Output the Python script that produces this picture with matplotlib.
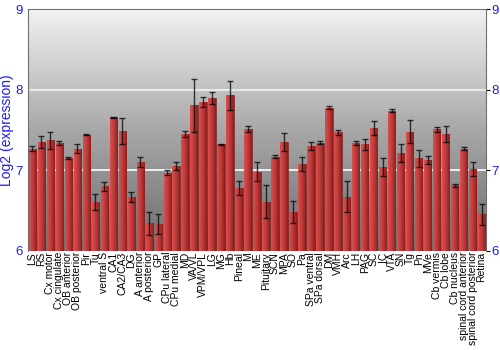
import numpy as np
import matplotlib
matplotlib.use('Agg')
import matplotlib.pyplot as plt
from matplotlib.colors import LinearSegmentedColormap

regions = ['LS', 'RS', 'Cx motor', 'Cx cingulate', 'OB anterior', 'OB posterior', 'Pir', 'Tu',
           'ventral S', 'CA1', 'CA2/CA3', 'DG', 'A anterior', 'A posterior', 'GP', 'CPu lateral',
           'CPu medial', 'MD', 'VA/VL', 'VPM/VPL', 'LG', 'MG', 'Hb', 'Pineal', 'M', 'ME',
           'Pituitary', 'SCN', 'MPA', 'SO', 'Pa', 'SPa ventral', 'SPa dorsal', 'DM', 'VMH', 'Arc',
           'LH', 'PAG', 'SC', 'IC', 'VTA', 'SN', 'Tg', 'Pn', 'MVe', 'Cb vermis', 'Cb lobe',
           'Cb nucleus', 'spinal cord anterior', 'spinal cord posterior', 'Retina']
expr = [7.27, 7.35, 7.37, 7.34, 7.15, 7.27, 7.44, 6.61, 6.80, 7.66, 7.49, 6.67, 7.10, 6.34,
        6.33, 6.97, 7.05, 7.45, 7.81, 7.85, 7.90, 7.32, 7.93, 6.78, 7.51, 6.98, 6.61, 7.17,
        7.35, 6.48, 7.08, 7.30, 7.34, 7.78, 7.47, 6.67, 7.34, 7.32, 7.52, 7.04, 7.74, 7.21,
        7.48, 7.15, 7.13, 7.51, 7.45, 6.81, 7.27, 7.02, 6.45]
err = [0.03, 0.075, 0.1, 0.025, 0.01, 0.06, 0.005, 0.1, 0.055, 0.008, 0.165, 0.06, 0.06, 0.14,
       0.12, 0.03, 0.05, 0.035, 0.33, 0.066, 0.075, 0.005, 0.185, 0.083, 0.04, 0.116, 0.21,
       0.015, 0.116, 0.135, 0.09, 0.045, 0.02, 0.015, 0.035, 0.19, 0.025, 0.07, 0.087, 0.11,
       0.02, 0.11, 0.14, 0.105, 0.05, 0.03, 0.1, 0.023, 0.017, 0.087, 0.13]

blue = '#1a1aff'
fig = plt.figure(figsize=(5, 3.5), dpi=100)
ax = fig.add_axes([0.056, 0.284, 0.916, 0.689])

x = np.arange(len(regions))
ax.set_xlim(-0.5, len(regions) - 0.5)
ax.set_ylim(6, 9)

# background gradient
bg = LinearSegmentedColormap.from_list('bg', ['#6c6c6c', '#a8a8a8', '#f2f2f2'])
ax.imshow(np.linspace(0, 1, 256).reshape(-1, 1), cmap=bg, aspect='auto', origin='lower',
          extent=(-0.5, len(regions) - 0.5, 6, 9), zorder=0)
ax.axhline(7, color='white', lw=1.2, zorder=1)
ax.axhline(8, color='#e8e8e8', lw=1.5, zorder=1)

bars = ax.bar(x, np.array(expr) - 6, bottom=6, width=0.82, color='#b83232',
              edgecolor='#6a1515', linewidth=0.4, zorder=2)
barmap = LinearSegmentedColormap.from_list('bar', ['#d85050', '#c03a3a', '#8a1e1e'])
grad = np.linspace(0, 1, 64).reshape(1, -1)
for b in bars:
    im = ax.imshow(grad, cmap=barmap, aspect='auto', zorder=2.5,
                   extent=(b.get_x(), b.get_x() + b.get_width(), 6, 6 + b.get_height()))
    im.set_clip_path(b)

ax.errorbar(x, expr, yerr=err, fmt='none', ecolor='black', elinewidth=1, capsize=2,
            capthick=1, alpha=0.75, zorder=3)

ax.set_xticks(x)
ax.set_xticklabels(regions, rotation=90, fontsize=7.5, family='Liberation Sans')
ax.tick_params(axis='x', length=0, pad=1)
ax.set_yticks([6, 7, 8, 9])
ax.tick_params(axis='y', left=False, right=True, labelleft=True, labelright=True,
               labelcolor=blue, labelsize=9.5, length=3, pad=1)
for t in ax.get_yticklabels():
    t.set_family('Liberation Sans')
ax.set_ylabel('Log2 (expression)', color=blue, fontsize=10, family='Liberation Sans', labelpad=1)

for s in ['top', 'right', 'left']:
    ax.spines[s].set_color('#707070')
ax.spines['bottom'].set_visible(False)

fig.savefig('out.png', dpi=100)
